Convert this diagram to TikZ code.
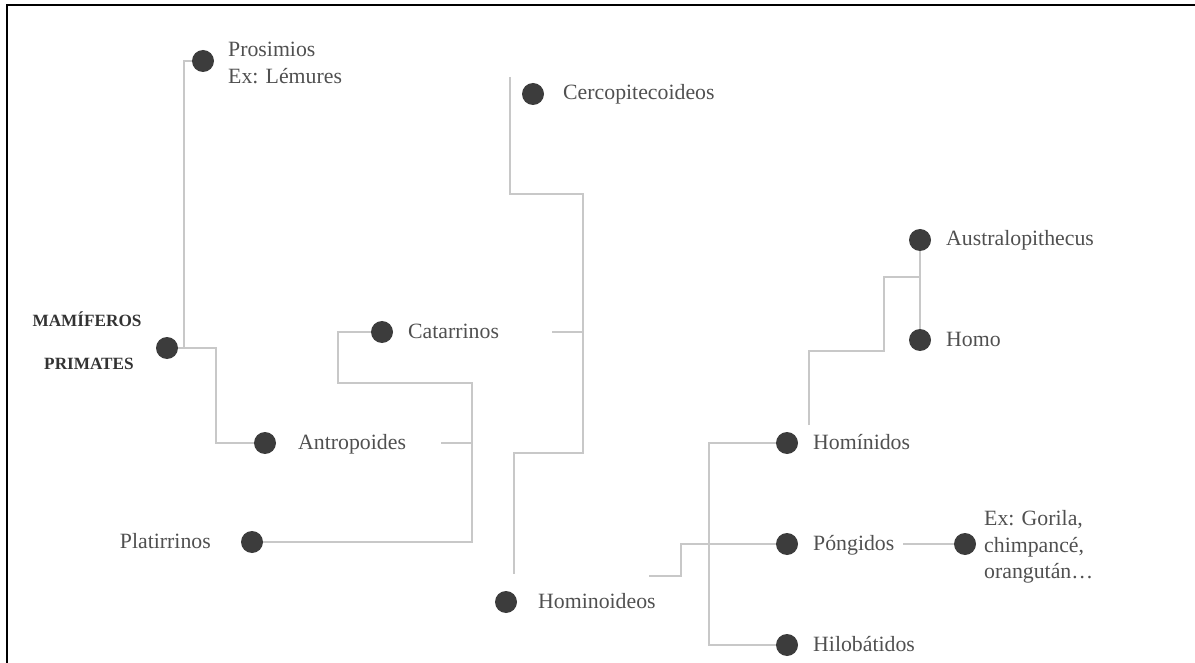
\documentclass[tikz,border=0pt]{standalone}
\usepackage{fontspec}
\setmainfont{Liberation Serif}
\usepackage{xcolor}
\usepackage{tikz}
\definecolor{cpunto}{HTML}{3C3C3C}
\definecolor{ctexto}{HTML}{505050}
\definecolor{crama}{HTML}{C8C8C8}

\begin{document}
\begin{tikzpicture}[x=1pt, y=-1pt,
  punto/.style={circle, fill=cpunto, inner sep=0pt, minimum size=22pt},
  etiqueta/.style={anchor=west, inner sep=0pt, text=ctexto, font=\fontsize{21.8}{26.5}\selectfont, text height=15pt, text depth=3pt},
  bloque/.style={anchor=west, inner sep=0pt, text=ctexto, font=\fontsize{21.8}{26.5}\selectfont, align=left},
  titulo/.style={inner sep=0pt, text=black!80, font=\fontsize{17.2}{22}\selectfont\bfseries},
  linea/.style={draw=crama, line width=1.1pt}]

\useasboundingbox (0,0) rectangle (1195,663);
\draw[line width=2pt] (7,663) -- (7,5) -- (1195,5);

\node[punto] (prosimios) at (203,61) {};
\node[punto] (mamif) at (167,348) {};
\node[punto] (antrop) at (265,443) {};
\node[punto] (catar) at (382,332) {};
\node[punto] (platir) at (252,542) {};
\node[punto] (cerco) at (533,94) {};
\node[punto] (homin) at (506,602) {};
\node[punto] (homd) at (787,443) {};
\node[punto] (pong) at (787,544) {};
\node[punto] (hilo) at (787,645) {};
\node[punto] (austr) at (920,240) {};
\node[punto] (homo) at (920,340) {};
\node[punto] (gorila) at (965,544) {};

\node[bloque] (prosimios-txt) at (228,63) {Prosimios\\Ex: Lémures};
\node[titulo] (mamif-txt) at (87,319) {MAMÍFEROS};
\node[titulo] (prim-txt) at (89,364) {PRIMATES};
\node[etiqueta] (antrop-txt) at (298,443) {Antropoides};
\node[etiqueta] (catar-txt) at (408,332) {Catarrinos};
\node[etiqueta, anchor=east] (platir-txt) at (211,542) {Platirrinos};
\node[etiqueta] (cerco-txt) at (563,94) {Cercopitecoideos};
\node[etiqueta] (homin-txt) at (538,602) {Hominoideos};
\node[etiqueta] (homd-txt) at (813,443) {Homínidos};
\node[etiqueta] (pong-txt) at (813,544) {Póngidos};
\node[etiqueta] (hilo-txt) at (813,645) {Hilobátidos};
\node[etiqueta] (austr-txt) at (946,240) {Australopithecus};
\node[etiqueta] (homo-txt) at (946,340) {Homo};
\node[bloque] (gorila-txt) at (984,547) {Ex: Gorila,\\chimpancé,\\orangután…};

\coordinate (nudo1) at (184,348);
\coordinate (antrop-fin) at (441,443);
\coordinate (catar-fin) at (552,332);
\coordinate (cerco-fin) at (510,77);
\coordinate (homin-fin) at (514,574);
\coordinate (homin-ini) at (649,576);
\coordinate (homd-fin) at (809,425);
\coordinate (pong-fin) at (903,544);

\draw[linea] (prosimios.west) -| (nudo1);
\draw[linea] (mamif.east) -- (nudo1) -- (216,348) |- (antrop.west);
\draw[linea] (antrop-fin) -- (472,443);
\draw[linea] (catar.west) -| (338,383) -- (472,383) |- (platir.east);
\draw[linea] (catar-fin) -- (583,332);
\draw[linea] (cerco-fin) |- (583,194) -- (583,453) -| (homin-fin);
\draw[linea] (homin-ini) -- (681,576) |- (pong.west);
\draw[linea] (homd.west) -| (709,645) -- (hilo.west);
\draw[linea] (homd-fin) |- (884,351) |- (920,277);
\draw[linea] (austr.south) -- (homo.north);
\draw[linea] (pong-fin) -- (gorila.west);
\end{tikzpicture}
\end{document}
